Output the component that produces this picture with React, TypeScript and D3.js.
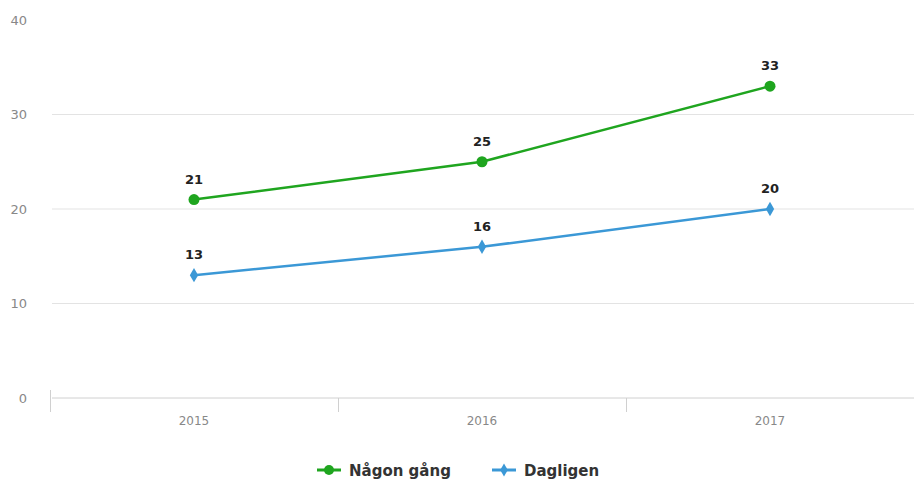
import React from "react";
import * as d3 from "d3";

const years = ["2015", "2016", "2017"];
const nagonGang = [21, 25, 33];
const dagligen = [13, 16, 20];
const yTicks = [0, 10, 20, 30, 40];
const seriesNames = ["Någon gång", "Dagligen"];
const seriesColors = ["#1fa51f", "#3b98d6"];

const W = 914;
const H = 485;

export default function App() {
  const x = d3.scaleBand<string>().domain(years).range([50, 914]);
  const y = d3.scaleLinear().domain([0, 40]).range([398, 20]);
  const line = d3
    .line<number>()
    .x((_, i) => (x(years[i]) as number) + x.bandwidth() / 2)
    .y((d) => y(d));

  const series = [nagonGang, dagligen];
  const boundaries = [...years.map((c) => x(c) as number), 914];
  const font = "'DejaVu Sans', Verdana, sans-serif";

  const diamond = d3.symbol().type(d3.symbolDiamond).size(60)() as string;
  const legendDiamond = d3.symbol().type(d3.symbolDiamond).size(50)() as string;

  const legendX = [317, 492];

  return (
    <svg
      width={W}
      height={H}
      style={{ position: "absolute", left: 0, top: 0, background: "#fff" }}
      fontFamily={font}
    >
      {yTicks.map((t) => (
        <g key={t}>
          {t > 0 && t < 40 && (
            <line x1={52} x2={914} y1={y(t)} y2={y(t)} stroke="#e3e3e3" strokeWidth={1} />
          )}
          <text x={27} y={y(t) + 4.5} textAnchor="end" fontSize={13} fill="#888">
            {t}
          </text>
        </g>
      ))}
      <line x1={52} x2={914} y1={y(0)} y2={y(0)} stroke="#d0d0d0" strokeWidth={1} />
      {boundaries.map((b, i) => (
        <line
          key={i}
          x1={b + 0.5}
          x2={b + 0.5}
          y1={i === 0 ? y(0) - 8 : y(0)}
          y2={y(0) + 14}
          stroke="#d0d0d0"
        />
      ))}
      {years.map((c) => (
        <text
          key={c}
          x={(x(c) as number) + x.bandwidth() / 2}
          y={425}
          textAnchor="middle"
          fontSize={12}
          fill="#888"
        >
          {c}
        </text>
      ))}
      {series.map((s, si) => (
        <g key={si}>
          <path d={line(s) as string} fill="none" stroke={seriesColors[si]} strokeWidth={2.5} />
          {s.map((v, i) => {
            const cx = (x(years[i]) as number) + x.bandwidth() / 2;
            const cy = y(v);
            return (
              <g key={i}>
                {si === 0 ? (
                  <circle cx={cx} cy={cy} r={5.5} fill={seriesColors[si]} />
                ) : (
                  <path d={diamond} transform={`translate(${cx},${cy})`} fill={seriesColors[si]} />
                )}
                <text
                  x={cx}
                  y={cy - 16}
                  textAnchor="middle"
                  fontSize={13}
                  fontWeight="bold"
                  fill="#222"
                >
                  {v}
                </text>
              </g>
            );
          })}
        </g>
      ))}
      {seriesNames.map((n, i) => {
        const lx = legendX[i];
        const ly = 470;
        return (
          <g key={n}>
            <line x1={lx} x2={lx + 24} y1={ly} y2={ly} stroke={seriesColors[i]} strokeWidth={3} />
            {i === 0 ? (
              <circle cx={lx + 12} cy={ly} r={5} fill={seriesColors[i]} />
            ) : (
              <path d={legendDiamond} transform={`translate(${lx + 12},${ly})`} fill={seriesColors[i]} />
            )}
            <text x={lx + 32} y={ly + 5.5} fontSize={15} fontWeight="bold" fill="#333">
              {n}
            </text>
          </g>
        );
      })}
    </svg>
  );
}
